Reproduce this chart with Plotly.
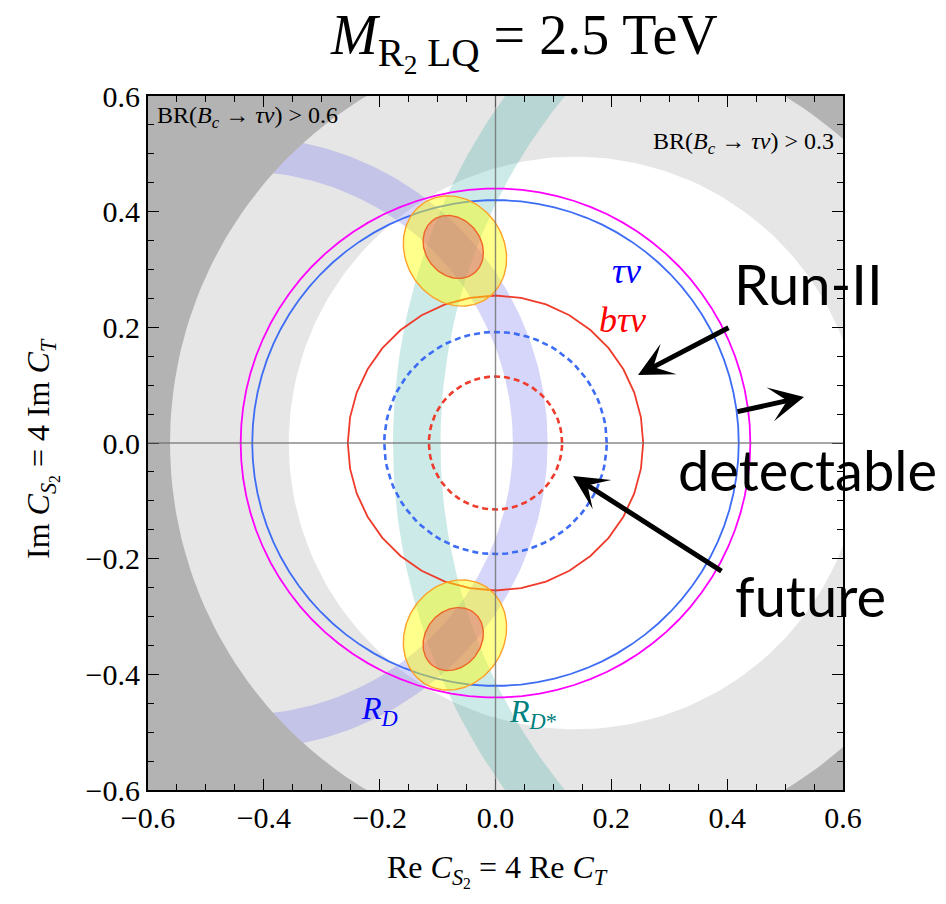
import numpy as np
import plotly.graph_objects as go

# BR(Bc -> tau nu) contours: circles about a common centre on the real axis
br_levels = [0.3, 0.6]
br_radius = [0.495, 0.70]
br_center = [0.138, 0.0]

# R_D and R_D* allowed bands (annuli centred on the real axis)
band_labels = ["R_D", "R_D*"]
band_cx = [-0.44, 0.85]
band_r_in = [0.470, 0.945]
band_r_out = [0.53, 1.027]
band_colors = ["rgba(120,120,240,0.30)", "rgba(0,150,136,0.20)"]

# Collider reach contours centred at the origin
circ_labels = ["tau nu (HL)", "tau nu Run-II", "b tau nu Run-II", "tau nu future", "b tau nu future"]
circ_radius = [0.44, 0.42, 0.255, 0.192, 0.115]
circ_colors = ["#ff00ff", "#3d6cf5", "#ee3b2c", "#3d6cf5", "#ee3b2c"]
circ_dash = ["solid", "solid", "solid", "6px,4px", "6px,4px"]
circ_nseg = [90, 90, 36, 90, 90]

# Best-fit regions (2 sigma, 1 sigma) as tilted ellipses
ell_cx = [-0.070, -0.073, -0.070, -0.073]
ell_cy = [0.332, 0.339, -0.332, -0.339]
ell_a = [0.099, 0.058, 0.099, 0.058]
ell_b = [0.085, 0.048, 0.085, 0.048]
ell_ang = [122, 128, -122, -128]
ell_fill = ["rgba(255,255,0,0.45)", "rgba(225,75,125,0.40)"] * 2
ell_line = ["rgb(255,160,40)", "rgb(240,100,40)"] * 2

tick_vals = [-0.6, -0.4, -0.2, 0.0, 0.2, 0.4, 0.6]
axis_range = [-0.6, 0.6]

SERIF = "Liberation Serif"
SANS = "Lato"


def circle(cx, cy, r, n=120, reverse=False):
    t = np.linspace(0, 2 * np.pi, n + 1)
    if reverse:
        t = t[::-1]
    return cx + r * np.cos(t), cy + r * np.sin(t)


def ellipse(cx, cy, a, b, ang, n=120):
    t = np.linspace(0, 2 * np.pi, n + 1)
    th = np.deg2rad(ang)
    x = a * np.cos(t)
    y = b * np.sin(t)
    return cx + x * np.cos(th) - y * np.sin(th), cy + x * np.sin(th) + y * np.cos(th)


fig = go.Figure()

# inside of BR < 0.3 (white); background outside is light grey
wx, wy = circle(br_center[0], br_center[1], br_radius[0], 240)
fig.add_trace(go.Scatter(x=wx, y=wy, fill="toself", fillcolor="white",
                         line=dict(width=0), mode="lines", hoverinfo="skip"))

# R_D / R_D* bands
for cx, ri, ro, col in zip(band_cx, band_r_in, band_r_out, band_colors):
    ox, oy = circle(cx, 0.0, ro, 360)
    ix, iy = circle(cx, 0.0, ri, 360, reverse=True)
    fig.add_trace(go.Scatter(x=np.concatenate([ox, ix]), y=np.concatenate([oy, iy]),
                             fill="toself", fillcolor=col, line=dict(width=0),
                             mode="lines", hoverinfo="skip"))

# BR > 0.6 region (dark grey): big square with a circular hole
hx, hy = circle(br_center[0], br_center[1], br_radius[1], 240)
big = 1.5
sq_x = [big, big, -big, -big, big, big]
sq_y = [0.0, -big, -big, big, big, 0.0]
fig.add_trace(go.Scatter(x=np.concatenate([hx, sq_x]), y=np.concatenate([hy, sq_y]),
                         fill="toself", fillcolor="rgb(179,179,179)", line=dict(width=0),
                         mode="lines", hoverinfo="skip"))

# reach contours
for r, col, dash, n in zip(circ_radius, circ_colors, circ_dash, circ_nseg):
    cx, cy = circle(0.0, 0.0, r, n)
    w = 2.6 if dash != "solid" else 1.8
    fig.add_trace(go.Scatter(x=cx, y=cy, mode="lines",
                             line=dict(color=col, width=w, dash=dash), hoverinfo="skip"))

# best-fit ellipses
for cx, cy, a, b, ang, fc, lc in zip(ell_cx, ell_cy, ell_a, ell_b, ell_ang, ell_fill, ell_line):
    ex, ey = ellipse(cx, cy, a, b, ang)
    fig.add_trace(go.Scatter(x=ex, y=ey, fill="toself", fillcolor=fc, mode="lines",
                             line=dict(color=lc, width=1.4), hoverinfo="skip"))

axis_common = dict(
    range=axis_range, autorange=False, tickvals=tick_vals, tickformat=".1f",
    ticks="inside", ticklen=11, tickwidth=1.4, tickcolor="black",
    minor=dict(dtick=0.05, ticks="inside", ticklen=6, tickwidth=1, tickcolor="black"),
    showline=True, linecolor="black", linewidth=2, mirror="ticks",
    showgrid=False, zeroline=False,
    tickfont=dict(family=SERIF, size=30, color="black"),
)

fig.update_layout(
    width=946, height=904,
    margin=dict(l=148, r=103, t=96, b=114),
    paper_bgcolor="white", plot_bgcolor="rgb(230,230,230)",
    showlegend=False,
    xaxis=axis_common, yaxis=axis_common,
)

# coordinate axes through the origin
fig.add_shape(type="line", x0=0, x1=0, y0=axis_range[0], y1=axis_range[1], xref="x", yref="y",
              line=dict(color="rgba(110,110,110,0.8)", width=1.4), layer="above")
fig.add_shape(type="line", y0=0, y1=0, x0=axis_range[0], x1=axis_range[1], xref="x", yref="y",
              line=dict(color="rgba(110,110,110,0.8)", width=1.4), layer="above")


def pxx(x):
    return (x - 148) / 695


def pxy(y):
    return (790 - y) / 694


def label(text, x, y, size, color="black", family=SERIF, ref="paper", xanchor="center", **kw):
    return dict(text=text, x=x, y=y, xref=ref, yref=ref.replace("x", "y"), xanchor=xanchor,
                yanchor="middle", showarrow=False,
                font=dict(family=family, size=size, color=color), **kw)


ann = []
# title and axis titles
ann.append(label("<i>M</i><sub>R<sub>2</sub> LQ</sub> = 2.5 TeV", 512 / 946, pxy(42), 56))
ann.append(label("Re <i>C</i><sub><i>S</i><sub>2</sub></sub> = 4 Re <i>C</i><sub><i>T</i></sub>",
                 pxx(497), pxy(870), 32))
ann.append(label("Im <i>C</i><sub><i>S</i><sub>2</sub></sub> = 4 Im <i>C</i><sub><i>T</i></sub>",
                 pxx(42), pxy(449), 32, textangle=-90))

# region labels
ann.append(label("BR(<i>B</i><sub><i>c</i></sub> → <i>τν</i>) > 0.6", -0.588, 0.563, 24,
                 ref="x", xanchor="left"))
ann.append(label("BR(<i>B</i><sub><i>c</i></sub> → <i>τν</i>) > 0.3", 0.588, 0.518, 24,
                 ref="x", xanchor="right"))
for txt, x, y, size, col in [("<i>τν</i>", 0.227, 0.298, 36, "blue"),
                             ("<i>bτν</i>", 0.22, 0.213, 36, "red"),
                             ("<i>R</i><sub><i>D</i></sub>", -0.20, -0.462, 32, "blue"),
                             ("<i>R</i><sub><i>D</i>*</sub>", 0.065, -0.467, 32, "rgb(0,128,128)")]:
    ann.append(label(txt, x, y, size, color=col, ref="x"))

# big sans labels
for txt, cx, cy in [("Run-II", 808, 283), ("detectable", 807, 469), ("future", 810, 595)]:
    ann.append(label(txt, pxx(cx), pxy(cy), 56, family=SANS))

# arrows: tip and tail positions in pixels
for (tx, ty), (sx, sy) in [((638, 375), (730, 327)), ((804, 397), (736, 412)), ((573, 476), (723, 572))]:
    ann.append(dict(text="", x=pxx(tx), y=pxy(ty), xref="paper", yref="paper",
                    ax=sx - tx, ay=sy - ty, axref="pixel", ayref="pixel",
                    showarrow=True, arrowhead=3, arrowsize=1.15, arrowwidth=5, arrowcolor="black"))

fig.update_layout(annotations=ann)

fig.write_html("out.html")
